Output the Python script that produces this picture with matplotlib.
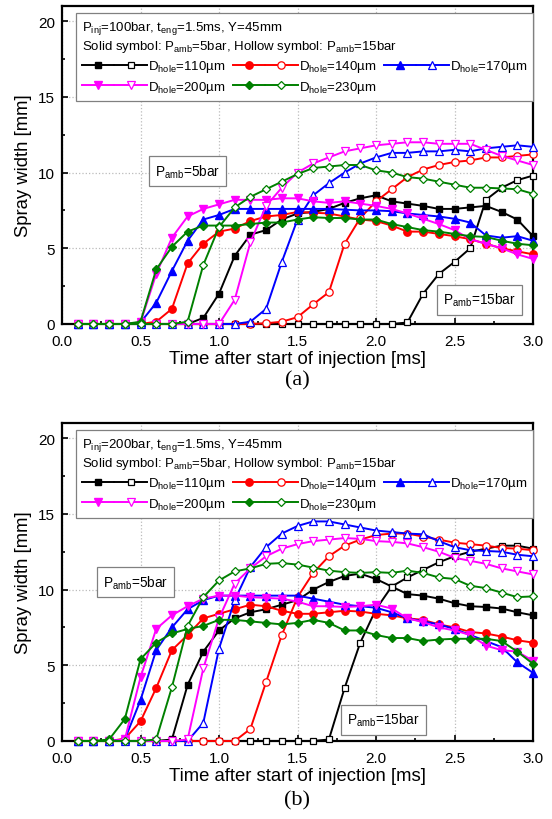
import matplotlib
matplotlib.use("Agg")
import matplotlib.pyplot as plt
import numpy as np
from matplotlib.legend_handler import HandlerTuple
from matplotlib.ticker import MultipleLocator

plt.rcParams['font.family'] = ['Liberation Sans', 'DejaVu Sans']
plt.rcParams['mathtext.default'] = 'regular'

t = np.round(np.arange(0.1, 3.01, 0.1), 1)
holes = [110, 140, 170, 200, 230]

# panel (a): Pinj = 100 bar, solid = Pamb 5 bar, hollow = Pamb 15 bar
a_solid = {
    110: [0, 0, 0, 0, 0, 0, 0, 0, 0.4, 2.0, 4.5, 5.9, 6.2, 6.9, 7.3, 7.4, 7.6, 8.0, 8.3, 8.5,
          8.1, 7.95, 7.8, 7.6, 7.6, 7.7, 7.8, 7.4, 6.9, 5.8],
    140: [0, 0, 0, 0, 0, 0.15, 1.0, 4.0, 5.3, 6.1, 6.3, 6.8, 7.1, 7.2, 7.4, 7.35, 7.3, 7.1, 6.9, 6.8,
          6.5, 6.1, 6.1, 5.95, 5.8, 5.6, 5.3, 5.0, 4.8, 4.6],
    170: [0, 0, 0, 0, 0.1, 1.4, 3.5, 5.5, 6.9, 7.2, 7.6, 7.6, 7.6, 7.6, 7.6, 7.6, 7.6, 7.55, 7.5, 7.5,
          7.45, 7.3, 7.2, 7.1, 6.95, 6.7, 5.85, 5.7, 5.8, 5.5],
    200: [0, 0, 0, 0, 0.1, 3.3, 5.7, 7.1, 7.6, 7.9, 8.2, 8.2, 8.2, 8.3, 8.3, 8.1, 8.0, 8.1, 7.95, 7.8,
          7.6, 7.3, 6.95, 6.6, 6.2, 5.6, 5.3, 5.0, 4.6, 4.3],
    230: [0, 0, 0, 0, 0.15, 3.6, 5.1, 6.1, 6.5, 6.5, 6.5, 6.6, 6.7, 6.7, 6.9, 7.05, 7.0, 7.0, 6.9, 6.9,
          6.6, 6.4, 6.2, 6.1, 5.95, 5.8, 5.75, 5.5, 5.3, 5.2],
}
a_hollow = {
    110: [0] * 21 + [0.1, 2.0, 3.3, 4.1, 5.0, 8.2, 9.0, 9.5, 9.8],
    140: [0] * 12 + [0.05, 0.15, 0.45, 1.3, 2.1, 5.3, 7.0, 8.1, 8.9, 9.7, 10.2, 10.5, 10.7, 10.8,
                     11.0, 11.0, 11.1, 11.2],
    170: [0] * 11 + [0.15, 1.0, 4.1, 6.9, 8.5, 9.3, 10.0, 10.6, 11.0, 11.3, 11.3, 11.4, 11.4, 11.5,
                     11.4, 11.6, 11.7, 11.8, 11.7],
    200: [0] * 10 + [1.6, 5.4, 7.8, 9.0, 10.0, 10.6, 11.0, 11.4, 11.6, 11.8, 11.9, 12.0, 12.0, 11.9,
                     11.9, 11.9, 11.5, 11.1, 10.8, 10.5],
    230: [0] * 7 + [0.15, 3.9, 6.4, 7.7, 8.4, 8.9, 9.4, 9.9, 10.3, 10.4, 10.5, 10.5, 10.15, 10.0, 9.7,
                    9.6, 9.4, 9.2, 9.0, 9.0, 8.95, 8.9, 8.6],
}

# panel (b): Pinj = 200 bar
b_solid = {
    110: [0, 0, 0, 0, 0, 0, 0.1, 3.7, 5.9, 7.3, 8.1, 8.5, 8.7, 9.0, 9.3, 10.0, 10.5, 10.9, 11.05, 10.7,
          10.2, 9.7, 9.6, 9.4, 9.1, 8.9, 8.85, 8.75, 8.5, 8.3],
    140: [0, 0, 0, 0.15, 1.3, 3.5, 6.0, 7.0, 8.1, 8.4, 8.7, 9.0, 8.9, 8.6, 8.4, 8.4, 8.5, 8.6, 8.55, 8.4,
          8.3, 8.1, 8.0, 7.7, 7.5, 7.2, 7.1, 6.9, 6.65, 6.5],
    170: [0, 0, 0, 0.1, 2.7, 6.0, 7.5, 8.7, 9.3, 9.6, 9.6, 9.6, 9.6, 9.6, 9.6, 9.4, 9.2, 9.0, 8.9, 8.8,
          8.5, 8.1, 7.9, 7.7, 7.4, 7.0, 6.6, 6.2, 5.2, 4.5],
    200: [0, 0, 0, 0.1, 4.2, 7.4, 8.3, 8.9, 9.4, 9.6, 9.6, 9.5, 9.45, 9.4, 9.2, 8.9, 8.9, 8.85, 8.9, 9.0,
          8.75, 8.1, 7.85, 7.5, 7.3, 7.0, 6.3, 6.0, 5.9, 5.3],
    230: [0, 0, 0.1, 1.45, 5.4, 6.5, 7.1, 7.4, 7.6, 8.0, 8.0, 7.9, 7.8, 7.7, 7.8, 8.0, 7.8, 7.3, 7.3, 7.0,
          6.8, 6.8, 6.6, 6.7, 6.75, 6.75, 6.75, 6.6, 5.9, 5.1],
}
b_hollow = {
    110: [0] * 16 + [0.1, 3.5, 6.5, 8.7, 10.2, 10.8, 11.3, 11.8, 12.2, 12.5, 12.7, 12.9, 12.9, 12.7],
    140: [0] * 11 + [0.8, 3.9, 7.0, 9.5, 11.1, 12.2, 12.9, 13.3, 13.6, 13.7, 13.7, 13.5, 13.3, 13.1,
                     13.0, 12.9, 12.75, 12.7, 12.6],
    170: [0] * 8 + [1.2, 6.1, 9.3, 11.5, 12.8, 13.7, 14.2, 14.5, 14.5, 14.3, 14.1, 13.9, 13.8, 13.7,
                    13.65, 13.2, 12.8, 12.6, 12.55, 12.5, 12.3, 12.2],
    200: [0] * 7 + [0.1, 4.8, 8.1, 10.4, 11.4, 12.2, 12.7, 13.0, 13.2, 13.3, 13.4, 13.35, 13.2, 13.15,
                    13.05, 12.8, 12.5, 12.1, 11.9, 11.7, 11.4, 11.2, 11.0],
    230: [0] * 5 + [0.1, 3.55, 7.6, 9.5, 10.6, 11.2, 11.4, 11.7, 11.75, 11.65, 11.45, 11.25, 11.15,
                    11.1, 11.15, 11.1, 11.25, 11.1, 10.8, 10.7, 10.25, 10.1, 9.8, 9.5, 9.55],
}

colors = {110: 'black', 140: '#ff0000', 170: '#0000ff', 200: '#ff00ff', 230: '#008000'}
markers = {110: 's', 140: 'o', 170: '^', 200: 'v', 230: 'D'}
msize = {110: 4.8, 140: 5.3, 170: 5.5, 200: 5.5, 230: 4.3}


def draw_panel(ax, solid, hollow, pinj, box5, box15):
    handles = {}
    for d in holes:
        c = colors[d]
        l1, = ax.plot(t, solid[d], color=c, lw=1.4, marker=markers[d], ms=msize[d],
                      mfc=c, mec=c, clip_on=False, zorder=3)
        l2, = ax.plot(t, hollow[d], color=c, lw=1.4, marker=markers[d], ms=msize[d],
                      mfc='white', mec=c, mew=0.9, clip_on=False, zorder=3)
        handles[d] = (l1, l2)

    ax.set_xlim(0, 3.0)
    ax.set_ylim(0, 21)
    ax.xaxis.set_major_locator(MultipleLocator(0.5))
    ax.xaxis.set_minor_locator(MultipleLocator(0.25))
    ax.yaxis.set_major_locator(MultipleLocator(5))
    ax.yaxis.set_minor_locator(MultipleLocator(2.5))
    ax.set_xticks(np.arange(0, 3.01, 0.5))
    ax.set_xticklabels(['%.1f' % v for v in np.arange(0, 3.01, 0.5)])
    ax.tick_params(which='both', direction='in', labelsize=11, width=1.2)
    ax.tick_params(which='major', length=4)
    ax.tick_params(which='minor', length=2.5)
    ax.tick_params(axis='x', which='major', pad=7)
    ax.tick_params(axis='y', which='major', pad=5)
    ax.grid(True, which='major', ls=':', color='#bbbbbb', lw=0.9)
    for s in ax.spines.values():
        s.set_linewidth(1.6)
    ax.set_xlabel('Time after start of injection [ms]', fontsize=13.3, labelpad=1.5)
    ax.set_ylabel('Spray width [mm]', fontsize=13.3, labelpad=4)

    order = [110, 200, 140, 230, 170]
    title = ('P$_{inj}$=%dbar, t$_{eng}$=1.5ms, Y=45mm\n'
             'Solid symbol: P$_{amb}$=5bar, Hollow symbol: P$_{amb}$=15bar' % pinj)
    leg = ax.legend([handles[d] for d in order],
                    ['D$_{hole}$=%dµm' % d for d in order],
                    handler_map={tuple: HandlerTuple(ndivide=None, pad=0.0)},
                    ncol=3, loc='upper left', bbox_to_anchor=(0.03, 0.979, 0.97, 0.0),
                    mode='expand', fontsize=9.5, title=title, title_fontsize=9.5,
                    alignment='left', handlelength=4.9, handletextpad=0.1,
                    columnspacing=0.1, labelspacing=0.35, borderpad=0.45,
                    borderaxespad=0.0, fancybox=False, edgecolor='#808080', framealpha=1)
    leg.get_frame().set_linewidth(0.9)
    leg.set_zorder(5)

    bx = dict(boxstyle='square,pad=0.45', fc='white', ec='#808080', lw=0.9)
    ax.text(box5[0], box5[1], 'P$_{amb}$=5bar', fontsize=9.8, ha='center', va='center',
            bbox=bx, zorder=4)
    ax.text(box15[0], box15[1], 'P$_{amb}$=15bar', fontsize=9.8, ha='center', va='center',
            bbox=bx, zorder=4)


fig = plt.figure(figsize=(5.52, 8.2), dpi=100)
ax1 = fig.add_axes([62 / 552, 1 - 325 / 820, 471 / 552, 318 / 820])
ax2 = fig.add_axes([62 / 552, 1 - 742 / 820, 471 / 552, 318 / 820])

draw_panel(ax1, a_solid, a_hollow, 100, (0.80, 10.1), (2.66, 1.6))
draw_panel(ax2, b_solid, b_hollow, 200, (0.47, 10.5), (2.05, 1.4))

fig.text(297 / 552, 1 - 381 / 820, '(a)', family='Liberation Serif', fontsize=16,
         ha='center', va='center')
fig.text(297 / 552, 1 - 801 / 820, '(b)', family='Liberation Serif', fontsize=16,
         ha='center', va='center')

fig.savefig('out.png', dpi=100)
